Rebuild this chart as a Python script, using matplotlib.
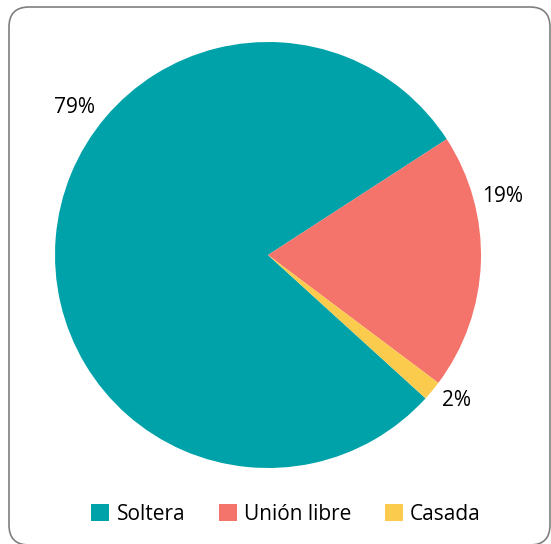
import matplotlib
matplotlib.use("Agg")
import numpy as np
import matplotlib.pyplot as plt
from matplotlib.patches import FancyBboxPatch, Patch
from matplotlib.transforms import IdentityTransform

# Data
categories = ['Soltera', 'Unión libre', 'Casada']
shares = [79.1, 19.4, 1.5]
pct_labels = ['79%', '19%', '2%']
colors = ['#00A2AA', '#F4736A', '#FBCB4E']

# label placement (angle in degrees, radius in pie units), Excel "best fit" style
label_angles = [142.7, 14.1, -37.7]
label_radius = [1.14, 1.135, 1.12]

W, H = 551, 544
fig = plt.figure(figsize=(W / 100, H / 100), dpi=100)

# rounded chart border (pixel coordinates)
border = FancyBboxPatch((9, -1), 541, 538, boxstyle="round,pad=0,rounding_size=20",
                        transform=IdentityTransform(), facecolor='none',
                        edgecolor='#7f7f7f', linewidth=1.2, zorder=-1)
fig.patches.append(border)

cx, cy, r = 268, 544 - 255, 213
ax = fig.add_axes([(cx - r) / W, (cy - r) / H, 2 * r / W, 2 * r / H])
ax.pie(shares, colors=colors, startangle=-42.3, counterclock=False, radius=1,
       wedgeprops=dict(linewidth=0))
ax.set_xlim(-1, 1)
ax.set_ylim(-1, 1)
ax.set_aspect('equal')
ax.axis('off')

font = 'Open Sans'
for txt, ang, rad in zip(pct_labels, label_angles, label_radius):
    a = np.deg2rad(ang)
    ax.text(rad * np.cos(a), rad * np.sin(a), txt, ha='center', va='center',
            fontsize=15, family=font, color='#000000', clip_on=False)

handles = [Patch(facecolor=c, edgecolor='none') for c in colors]
fig.legend(handles, categories, loc='center', bbox_to_anchor=(286 / W, 1 - 514 / H),
           ncol=3, frameon=False, handlelength=0.87, handleheight=0.87,
           handletextpad=0.35, columnspacing=1.6,
           prop=dict(family=font, size=15))

fig.savefig('out.png', dpi=100)
